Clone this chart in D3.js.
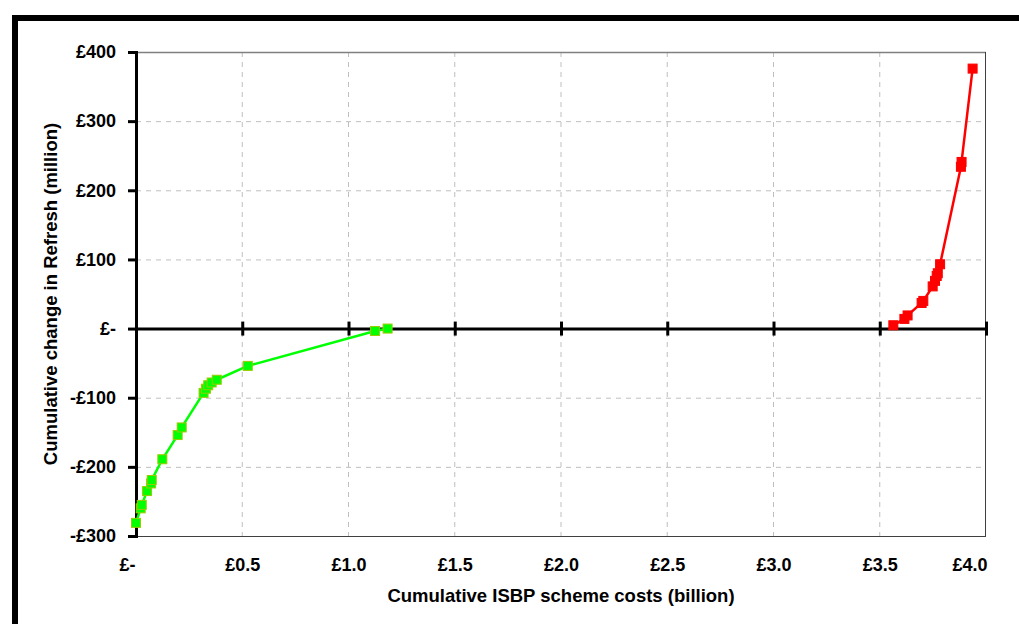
<!DOCTYPE html>
<html><head><meta charset="utf-8">
<script src="https://cdn.jsdelivr.net/npm/d3@7"></script>
<style>
html,body{margin:0;padding:0;background:#fff;}
svg{display:block;}
text{font-family:"Liberation Sans",Arial,sans-serif;font-weight:bold;fill:#000;}
</style></head>
<body>
<svg id="chart" width="1019" height="624"></svg>
<script>
// Cumulative ISBP scheme costs (billion) vs cumulative change in Refresh (million)
const greenX = [0.000, 0.022, 0.027, 0.052, 0.071, 0.074, 0.124, 0.196, 0.215, 0.318, 0.329, 0.340, 0.356, 0.380, 0.526, 1.125, 1.184];
const greenY = [-281, -260, -255, -235, -224, -219, -189, -154, -143, -93, -87, -82, -78, -74, -54, -3.5, 0];
const redX = [3.564, 3.616, 3.631, 3.697, 3.705, 3.749, 3.760, 3.768, 3.773, 3.784, 3.882, 3.885, 3.937];
const redY = [4.8, 14, 19, 37, 40, 61, 69, 76, 80, 93, 234, 241, 376];
const xTicks = [0, 0.5, 1.0, 1.5, 2.0, 2.5, 3.0, 3.5, 4.0];
const xTickLabels = ["£-", "£0.5", "£1.0", "£1.5", "£2.0", "£2.5", "£3.0", "£3.5", "£4.0"];
const yTicks = [-300, -200, -100, 0, 100, 200, 300, 400];
const yTickLabels = ["-£300", "-£200", "-£100", "£-", "£100", "£200", "£300", "£400"];
const xTitle = "Cumulative ISBP scheme costs (billion)";
const yTitle = "Cumulative change in Refresh (million)";

const svg = d3.select("#chart");
const L = 136, R = 986, T = 52, B = 536;
const FONT = "'Liberation Sans',Arial,sans-serif";
const x = d3.scaleLinear().domain([0, 4]).range([L, R]);
const y = d3.scaleLinear().domain([-300, 400]).range([B, T]);

// outer frame (top & left thick black bars)
svg.append("rect").attr("x", 12).attr("y", 15).attr("width", 1019 - 12).attr("height", 6).attr("fill", "#000");
svg.append("rect").attr("x", 12).attr("y", 15).attr("width", 6).attr("height", 624 - 15).attr("fill", "#000");

// gridlines
const grid = svg.append("g");
grid.selectAll("line.v").data(xTicks.slice(1, -1)).enter().append("line")
  .attr("x1", d => x(d)).attr("x2", d => x(d)).attr("y1", T).attr("y2", B)
  .attr("stroke", "#bfbfbf").attr("stroke-width", 1).attr("stroke-dasharray", "5,5");
grid.selectAll("line.h").data(yTicks.filter(d => d !== 0 && d !== -300 && d !== 400)).enter().append("line")
  .attr("x1", L).attr("x2", R).attr("y1", d => y(d) + 0.5).attr("y2", d => y(d) + 0.5)
  .attr("stroke", "#bfbfbf").attr("stroke-width", 1).attr("stroke-dasharray", "5,5");

// plot border top/right/bottom
svg.append("line").attr("x1", L).attr("x2", R).attr("y1", T + 0.5).attr("y2", T + 0.5).attr("stroke", "#808080").attr("stroke-width", 1.5);
svg.append("line").attr("x1", R - 0.5).attr("x2", R - 0.5).attr("y1", T).attr("y2", B).attr("stroke", "#404040").attr("stroke-width", 1);
svg.append("line").attr("x1", L).attr("x2", R).attr("y1", B + 0.5).attr("y2", B + 0.5).attr("stroke", "#404040").attr("stroke-width", 1);

// Y axis (left, thick)
const yAxis = d3.axisLeft(y).tickValues(yTicks).tickSize(8).tickPadding(12)
  .tickFormat((d, i) => yTickLabels[i]);
const gy = svg.append("g").attr("transform", `translate(${L},0)`).call(yAxis);
gy.select(".domain").attr("stroke", "#000").attr("stroke-width", 3);
gy.selectAll(".tick line").attr("stroke", "#000").attr("stroke-width", 3);
gy.selectAll(".tick text").style("font-size", "18px").style("font-family", FONT).style("font-weight", "bold").attr("fill", "#000");

// X axis drawn at y=0 (thick) with crossing ticks; labels at bottom
const xAxisLine = d3.axisBottom(x).tickValues(xTicks).tickSizeInner(7).tickSizeOuter(0).tickFormat("");
const gx = svg.append("g").attr("transform", `translate(0,${y(0)})`).call(xAxisLine);
gx.select(".domain").attr("stroke", "#000").attr("stroke-width", 3);
gx.selectAll(".tick line").attr("stroke", "#000").attr("stroke-width", 3).attr("y1", -7).attr("y2", 7);

const xLabels = d3.axisBottom(x).tickValues(xTicks).tickSize(0).tickPadding(22)
  .tickFormat((d, i) => xTickLabels[i]);
const gxl = svg.append("g").attr("transform", `translate(0,${B})`).call(xLabels);
gxl.select(".domain").remove();
gxl.selectAll(".tick text").attr("dy", null).attr("y", 35).style("font-size", "18px").style("font-family", FONT).style("font-weight", "bold").attr("fill", "#000");
// first label sits slightly left, last label is kept inside the plot edge
gxl.selectAll(".tick text").filter((d, i) => i === 0).attr("text-anchor", "end").attr("x", -1);
gxl.selectAll(".tick text").filter((d, i) => i === xTicks.length - 1).attr("text-anchor", "end").attr("x", 1);

// titles
svg.append("text").attr("x", (L + R) / 2).attr("y", 602).attr("text-anchor", "middle")
  .style("font-size", "18.5px").text(xTitle);
svg.append("text").attr("transform", `translate(57,${(T + B) / 2}) rotate(-90)`).attr("text-anchor", "middle")
  .style("font-size", "18.5px").text(yTitle);

// series
const line = d3.line().x(d => x(d[0])).y(d => y(d[1]));
const green = greenX.map((v, i) => [v, greenY[i]]);
const red = redX.map((v, i) => [v, redY[i]]);

svg.append("path").datum(green).attr("d", line).attr("fill", "none").attr("stroke", "#00ff00").attr("stroke-width", 2.5);
svg.append("path").datum(red).attr("d", line).attr("fill", "none").attr("stroke", "#ff0000").attr("stroke-width", 2.5);

const s = 9;
svg.append("g").selectAll("rect").data(green).enter().append("rect")
  .attr("x", d => x(d[0]) - s / 2).attr("y", d => y(d[1]) - s / 2).attr("width", s).attr("height", s)
  .attr("fill", "#00ff00").attr("stroke", "#99cc00").attr("stroke-width", 1);
svg.append("g").selectAll("rect").data(red).enter().append("rect")
  .attr("x", d => x(d[0]) - s / 2).attr("y", d => y(d[1]) - s / 2).attr("width", s).attr("height", s)
  .attr("fill", "#ff0000").attr("stroke", "#ff0000").attr("stroke-width", 1);
</script>
</body></html>
